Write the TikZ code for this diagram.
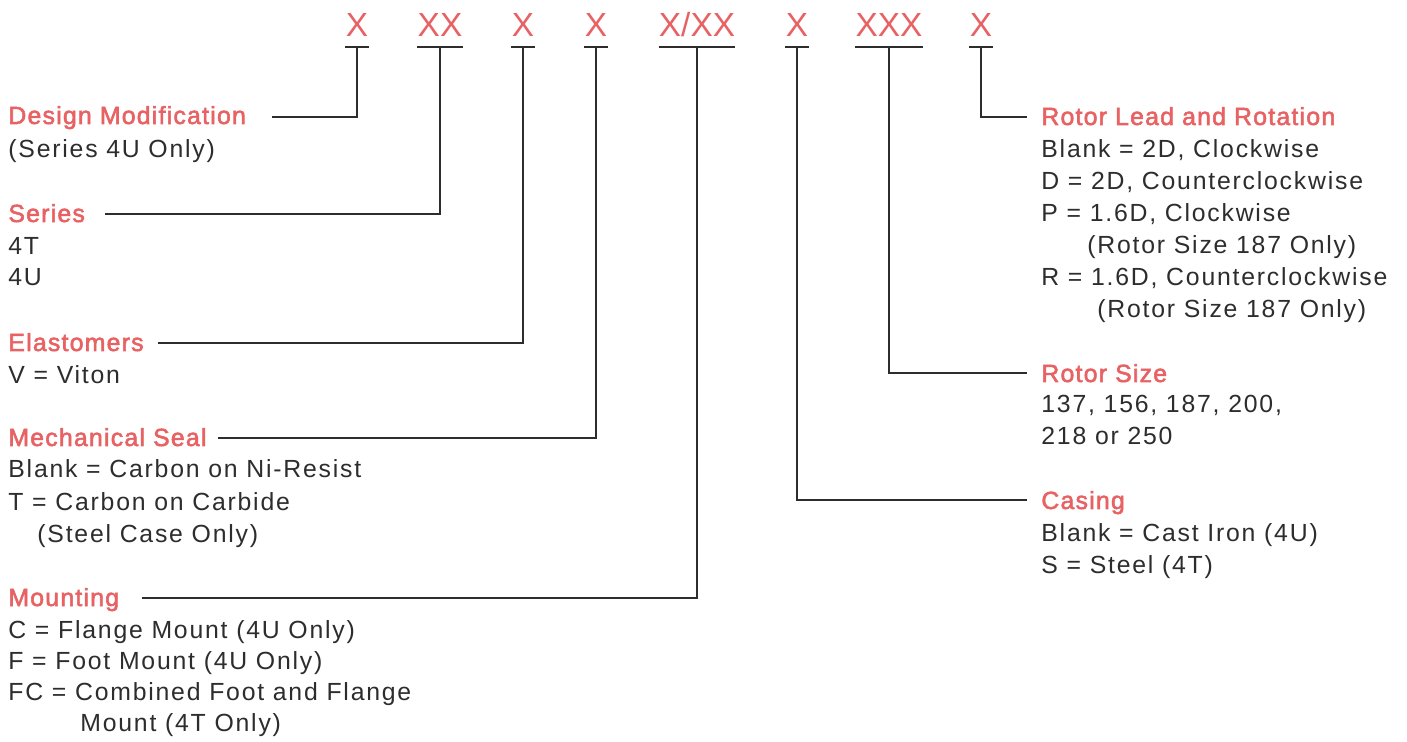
\documentclass[tikz,border=0pt]{standalone}
\usepackage{fontspec}
\setmainfont{Liberation Sans}[LetterSpace=7.2]
\newfontfamily\labfont{Liberation Sans}[LetterSpace=5,FakeBold=2.2]
\newfontfamily\hdrfont{Liberation Sans}
\definecolor{labred}{RGB}{232,98,100}
\definecolor{ink}{RGB}{45,45,45}
\begin{document}
\begin{tikzpicture}[x=0.5pt,y=-0.5pt,
  hdr/.style={font=\hdrfont\fontsize{16.7}{18}\selectfont, text=labred, anchor=base, inner xsep=0pt, inner ysep=5pt, text depth=0pt},
  lab/.style={font=\labfont\fontsize{12.4}{14}\selectfont, text=labred, anchor=base west, inner sep=0pt},
  txt/.style={font=\fontsize{12.4}{14}\selectfont, text=ink, anchor=base west, inner sep=0pt},
  con/.style={draw=ink, line width=0.75pt},
  uline/.style={draw=ink, line width=0.9pt}]
\useasboundingbox[fill=white] (0,0) rectangle (1407,742);
% header
\node[hdr] (h1) at (357,37) {X};
\node[hdr] (h2) at (440,37) {XX};
\node[hdr] (h3) at (523,37) {X};
\node[hdr] (h4) at (596,37) {X};
\node[hdr] (h5) at (697,37) {X/XX};
\node[hdr] (h6) at (797,37) {X};
\node[hdr] (h7) at (889,37) {XXX};
\node[hdr] (h8) at (981,37) {X};
\foreach \h in {h1,h2,h3,h4,h5,h6,h7,h8}{\draw[uline] (\h.south west) -- (\h.south east);}
% left labels
\node[lab] (dm) at (8,124) {Design Modification};
\node[txt] (dm1) at (8,158) {(Series 4U Only)};
\node[lab] (se) at (8,222) {Series};
\node[txt] (se1) at (8,255) {4T};
\node[txt] (se2) at (8,286) {4U};
\node[lab] (el) at (8,351) {Elastomers};
\node[txt] (el1) at (8,384) {V = Viton};
\node[lab] (ms) at (8,446) {Mechanical Seal};
\node[txt] (ms1) at (8,478) {Blank = Carbon on Ni-Resist};
\node[txt] (ms2) at (8,510) {T = Carbon on Carbide};
\node[txt] (ms3) at (37,542) {(Steel Case Only)};
\node[lab] (mo) at (8,606) {Mounting};
\node[txt] (mo1) at (8,638) {C = Flange Mount (4U Only)};
\node[txt] (mo2) at (8,669) {F = Foot Mount (4U Only)};
\node[txt] (mo3) at (8,700) {FC = Combined Foot and Flange};
\node[txt] (mo4) at (80,731) {Mount (4T Only)};
% right labels
\node[lab] (rl) at (1041,125) {Rotor Lead and Rotation};
\node[txt] (rl1) at (1041,158) {Blank = 2D, Clockwise};
\node[txt] (rl2) at (1041,190) {D = 2D, Counterclockwise};
\node[txt] (rl3) at (1041,222) {P = 1.6D, Clockwise};
\node[txt] (rl4) at (1087,254) {(Rotor Size 187 Only)};
\node[txt] (rl5) at (1041,286) {R = 1.6D, Counterclockwise};
\node[txt] (rl6) at (1097,318) {(Rotor Size 187 Only)};
\node[lab] (rs) at (1041,382) {Rotor Size};
\node[txt] (rs1) at (1041,413) {137, 156, 187, 200,};
\node[txt] (rs2) at (1041,445) {218 or 250};
\node[lab] (ca) at (1041,509) {Casing};
\node[txt] (ca1) at (1041,541) {Blank = Cast Iron (4U)};
\node[txt] (ca2) at (1041,573) {S = Steel (4T)};
% connector ends
\coordinate (cdm) at (272,117);
\coordinate (cse) at (105,214);
\coordinate (cel) at (158,343);
\coordinate (cms) at (218,438);
\coordinate (cmo) at (142,598);
\coordinate (crl) at (1027,117);
\coordinate (crs) at (1027,373);
\coordinate (cca) at (1027,500);
\draw[con] (h1.south) |- (cdm);
\draw[con] (h2.south) |- (cse);
\draw[con] (h3.south) |- (cel);
\draw[con] (h4.south) |- (cms);
\draw[con] (h5.south) |- (cmo);
\draw[con] (h6.south) |- (cca);
\draw[con] (h7.south) |- (crs);
\draw[con] (h8.south) |- (crl);
\end{tikzpicture}
\end{document}
